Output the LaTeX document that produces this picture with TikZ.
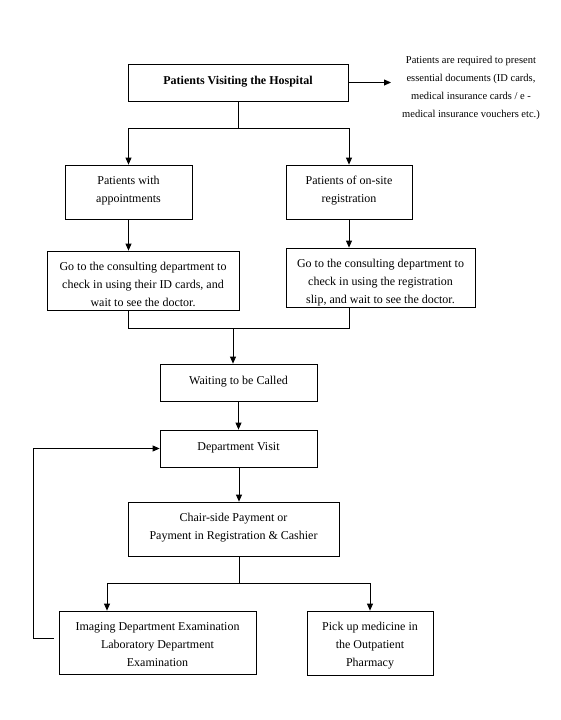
\documentclass[tikz,border=0pt]{standalone}
\usepackage{fontspec}
\setmainfont{Liberation Serif}
\usetikzlibrary{arrows.meta}
\newcommand{\shiftdn}[2]{\raisebox{-#1}[\height][\depth]{\begin{tabular}{@{}c@{}}#2\end{tabular}}}
\begin{document}
\begin{tikzpicture}[x=1pt,y=-1pt,
  box/.style={draw, line width=0.8pt, inner sep=0pt, align=center, font=\fontsize{12}{18}\selectfont},
  sidetext/.style={inner sep=0pt, align=center, font=\fontsize{10.5}{18.3}\selectfont},
  conn/.style={line width=0.8pt},
  arr/.style={conn,-{Triangle[length=7pt,width=6pt]}}]
\useasboundingbox (0,0) rectangle (561,720);

\node[box, minimum width=220pt, minimum height=37pt] (b1) at (238,82.5) {\shiftdn{-2pt}{\textbf{Patients Visiting the Hospital}}};
\node[sidetext] (side) at (471,88) {Patients are required to present\\essential documents (ID cards,\\medical insurance cards / e -\\medical insurance vouchers etc.)};
\node[box, minimum width=127pt, minimum height=54pt] (b2) at (128.5,192) {\shiftdn{-2pt}{Patients with\\appointments}};
\node[box, minimum width=126pt, minimum height=54pt] (b3) at (349,192) {\shiftdn{-2pt}{Patients of on-site\\registration}};
\node[box, minimum width=192pt, minimum height=59pt] (b4) at (143,280.5) {\shiftdn{4pt}{Go to the consulting department to\\check in using their ID cards, and\\wait to see the doctor.}};
\node[box, minimum width=189pt, minimum height=59pt] (b5) at (380.5,277.5) {\shiftdn{4pt}{Go to the consulting department to\\check in using the registration\\slip, and wait to see the doctor.}};
\node[box, minimum width=157pt, minimum height=37pt] (wait) at (238.5,382.5) {\shiftdn{-2pt}{Waiting to be Called}};
\node[box, minimum width=157pt, minimum height=37pt] (dept) at (238.5,448.5) {\shiftdn{-2pt}{Department Visit}};
\node[box, minimum width=211pt, minimum height=54pt] (pay) at (233.5,529) {\shiftdn{-2pt}{Chair-side Payment or\\Payment in Registration \& Cashier}};
\node[box, minimum width=197pt, minimum height=63pt] (img) at (157.5,642.5) {\shiftdn{2pt}{Imaging Department Examination\\Laboratory Department\\Examination}};
\node[box, minimum width=126pt, minimum height=64pt] (pharm) at (370,643) {\shiftdn{2pt}{Pick up medicine in\\the Outpatient\\Pharmacy}};

\coordinate (j1) at (238,128);
\coordinate (j2) at (233,328);
\coordinate (j3) at (239,583);
\coordinate (t1) at (107,583);
\coordinate (f1) at (33,638);

\draw[arr, shorten >=11pt] (b1.east) -- (b1.east -| side.west);
\draw[conn] (b1.south) -- (j1);
\draw[arr] (j1) -| (b2.north);
\draw[arr] (j1) -| (b3.north);
\draw[arr] (b2.south) -- (b2.south |- b4.north);
\draw[arr] (b3.south) -- (b3.south |- b5.north);
\draw[conn] (b2 |- b4.south) |- (j2);
\draw[conn] (b3 |- b5.south) |- (j2);
\draw[arr] (j2) -- (j2 |- wait.north);
\draw[arr] (wait.south) -- (dept.north);
\draw[arr] (j3 |- dept.south) -- (j3 |- pay.north);
\draw[conn] (j3 |- pay.south) -- (j3);
\draw[arr] (j3) -- (t1) -- (t1 |- img.north);
\draw[arr] (j3) -| (pharm.north);
\draw[arr, shorten <=5pt] (f1 -| img.west) -- (f1) |- (dept.west);
\end{tikzpicture}
\end{document}
